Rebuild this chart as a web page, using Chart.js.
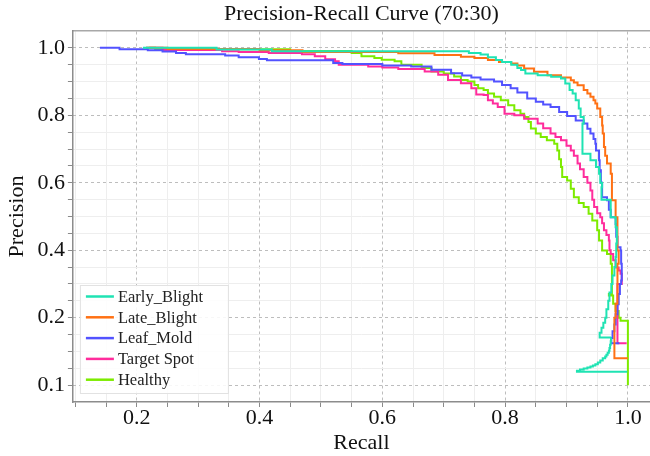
<!DOCTYPE html>
<html><head><meta charset="utf-8">
<script src="https://cdn.jsdelivr.net/npm/chart.js@4.4.1/dist/chart.umd.min.js"></script>
<style>html,body{margin:0;padding:0;background:#fff;}#wrap{width:650px;height:456px;}</style>
</head><body><div id="wrap"><canvas id="c" width="650" height="456"></canvas></div>
<script>
// ---- data ----
const seriesNames = ['Early_Blight', 'Late_Blight', 'Leaf_Mold', 'Target Spot', 'Healthy'];

const earlyBlightRecall = [0.21,0.33,0.42,0.741,0.76,0.772,0.785,0.795,0.81,0.82,0.826,0.833,0.853,0.875,0.891,0.898,0.905,0.91,0.915,0.92,0.923,0.928,0.926,0.926,0.939,0.948,0.953,0.955,0.958,0.957,0.972,0.98,0.982,0.981,0.98,0.978,0.975,0.973,0.97,0.968,0.965,0.963,0.96,0.957,0.954,0.973,0.9725,0.972,0.971,0.97,0.969,0.967,0.965,0.963,0.959,0.955,0.951,0.947,0.943,0.939,0.934,0.928,0.922,0.917,0.999];
const earlyBlightPrecision = [1.0,0.995,0.99,0.985,0.98,0.972,0.964,0.958,0.95,0.94,0.934,0.924,0.919,0.914,0.909,0.894,0.875,0.865,0.845,0.82,0.795,0.776,0.746,0.686,0.667,0.647,0.627,0.6,0.587,0.55,0.498,0.468,0.42,0.38,0.35,0.325,0.30,0.275,0.25,0.225,0.20,0.185,0.17,0.155,0.141,0.141,0.13,0.12,0.11,0.102,0.096,0.09,0.085,0.08,0.073,0.067,0.062,0.058,0.055,0.052,0.049,0.046,0.043,0.04,0.04];

const lateBlightRecall = [0.22,0.25,0.40,0.47,0.626,0.685,0.728,0.75,0.772,0.79,0.81,0.82,0.831,0.847,0.869,0.891,0.907,0.912,0.918,0.928,0.934,0.939,0.944,0.947,0.95,0.955,0.958,0.959,0.961,0.963,0.966,0.972,0.974,0.974,0.98,0.983,0.983,0.985,0.983,0.983,0.98,0.978,1.0];
const lateBlightPrecision = [1.0,0.997,0.993,0.988,0.984,0.979,0.974,0.97,0.964,0.958,0.954,0.948,0.939,0.929,0.919,0.912,0.904,0.897,0.889,0.875,0.865,0.855,0.845,0.835,0.82,0.795,0.77,0.746,0.706,0.68,0.657,0.627,0.597,0.548,0.498,0.439,0.399,0.36,0.31,0.241,0.2,0.08,0.08];

const leafMoldRecall = [0.14,0.172,0.218,0.242,0.264,0.28,0.344,0.366,0.399,0.412,0.52,0.535,0.60,0.647,0.68,0.712,0.73,0.745,0.76,0.782,0.795,0.809,0.82,0.836,0.85,0.862,0.874,0.888,0.901,0.915,0.928,0.934,0.939,0.944,0.947,0.948,0.953,0.954,0.956,0.958,0.966,0.969,0.972,0.98,0.981,0.983,0.988,0.989,0.99,0.989,0.987,0.985,0.983,0.98,0.978,0.975,0.973,0.986];
const leafMoldPrecision = [1.0,0.996,0.993,0.989,0.985,0.981,0.977,0.972,0.967,0.963,0.955,0.952,0.948,0.945,0.935,0.925,0.918,0.912,0.906,0.9,0.89,0.88,0.868,0.85,0.84,0.832,0.825,0.81,0.798,0.785,0.776,0.76,0.746,0.73,0.716,0.696,0.667,0.637,0.6,0.557,0.548,0.52,0.498,0.478,0.44,0.409,0.399,0.36,0.31,0.3,0.27,0.24,0.21,0.18,0.16,0.14,0.124,0.124];

const targetSpotRecall = [0.215,0.242,0.339,0.366,0.415,0.469,0.49,0.507,0.523,0.529,0.577,0.60,0.626,0.669,0.691,0.707,0.728,0.745,0.753,0.765,0.772,0.78,0.788,0.799,0.815,0.831,0.853,0.862,0.874,0.882,0.891,0.9,0.907,0.912,0.918,0.922,0.928,0.934,0.939,0.942,0.945,0.95,0.955,0.958,0.961,0.965,0.969,0.97,0.972,0.976,0.98,0.985,0.988,0.99,0.983,0.983,0.998];
const targetSpotPrecision = [1.0,0.994,0.99,0.988,0.985,0.981,0.975,0.966,0.96,0.95,0.945,0.942,0.937,0.93,0.92,0.905,0.895,0.88,0.862,0.86,0.845,0.835,0.825,0.805,0.8,0.79,0.776,0.762,0.746,0.736,0.726,0.71,0.696,0.68,0.657,0.64,0.617,0.6,0.577,0.55,0.528,0.51,0.498,0.48,0.459,0.445,0.429,0.4,0.389,0.37,0.349,0.34,0.33,0.3,0.28,0.124,0.124];

const healthyRecall = [0.215,0.23,0.45,0.55,0.566,0.587,0.599,0.62,0.631,0.664,0.68,0.70,0.717,0.728,0.739,0.75,0.756,0.765,0.772,0.782,0.793,0.805,0.815,0.825,0.831,0.838,0.842,0.85,0.858,0.868,0.88,0.885,0.888,0.891,0.893,0.901,0.907,0.912,0.92,0.928,0.936,0.942,0.95,0.953,0.958,0.966,0.972,0.974,0.974,0.969,0.976,0.976,0.98,0.985,0.988,1.0,1.0];
const healthyPrecision = [1.0,0.996,0.991,0.985,0.975,0.97,0.965,0.96,0.95,0.94,0.93,0.924,0.915,0.905,0.9,0.89,0.88,0.875,0.865,0.855,0.845,0.83,0.815,0.805,0.795,0.78,0.761,0.746,0.736,0.726,0.716,0.696,0.67,0.647,0.617,0.607,0.582,0.557,0.54,0.528,0.508,0.488,0.459,0.429,0.399,0.389,0.36,0.31,0.27,0.266,0.26,0.241,0.22,0.2,0.191,0.191,0.0];

const xTickValues = [0.2, 0.4, 0.6, 0.8, 1.0];
const xTickLabels = ['0.2', '0.4', '0.6', '0.8', '1.0'];
const yTickValues = [0.0, 0.2, 0.4, 0.6, 0.8, 1.0];
const yTickLabels = ['0.1', '0.2', '0.4', '0.6', '0.8', '1.0'];

// ---- styling ----
const seriesColors = ['#1FE3B3', '#FF7114', '#5252FF', '#FF2C9C', '#7DEB00'];
const FONT = "'Liberation Serif', 'Times New Roman', serif";

const recallSets = [earlyBlightRecall, lateBlightRecall, leafMoldRecall, targetSpotRecall, healthyRecall];
const precisionSets = [earlyBlightPrecision, lateBlightPrecision, leafMoldPrecision, targetSpotPrecision, healthyPrecision];

const datasets = seriesNames.map((name, k) => {
  const r = recallSets[k], p = precisionSets[k];
  const n = Math.min(r.length, p.length);
  const pts = [];
  for (let i = 0; i < n; i++) pts.push({x: r[i], y: p[i]});
  return {
    label: name, data: pts, borderColor: seriesColors[k], backgroundColor: seriesColors[k],
    borderWidth: 2, pointRadius: 0, stepped: true, fill: false, tension: 0
  };
});

const round2 = v => Math.round(v * 100) / 100;
const minorSteps = (a, b) => { const out = []; for (let i = Math.round(a * 20); i <= Math.round(b * 20); i++) out.push({value: i / 20}); return out; };
const isIn = (arr, v) => arr.some(t => Math.abs(t - v) < 1e-6);

const X_MIN = 0.096, X_MAX = 1.036, Y_MIN = -0.05, Y_MAX = 1.05;

const legendBox = {
  id: 'legendBox',
  afterDatasetsDraw(chart) {
    const ca = chart.chartArea, ctx = chart.ctx;
    const left = ca.left + 7, top = ca.bottom - 117, w = 148, h = 108;
    ctx.save();
    ctx.fillStyle = 'rgba(255,255,255,0.88)';
    ctx.fillRect(left, top, w, h);
    ctx.strokeStyle = '#e2e2e2'; ctx.lineWidth = 1;
    ctx.strokeRect(left + 0.5, top + 0.5, w, h);
    ctx.font = '16.5px ' + FONT; ctx.textBaseline = 'middle'; ctx.textAlign = 'left';
    chart.data.datasets.forEach((ds, i) => {
      const y = top + 11.5 + i * 20.8;
      ctx.strokeStyle = ds.borderColor; ctx.lineWidth = 2.5;
      ctx.beginPath(); ctx.moveTo(left + 6, y); ctx.lineTo(left + 34, y); ctx.stroke();
      ctx.fillStyle = '#222';
      ctx.fillText(ds.label, left + 38, y + 1);
    });
    ctx.restore();
  }
};

new Chart(document.getElementById('c'), {
  type: 'line',
  data: { datasets },
  options: {
    responsive: false, devicePixelRatio: 1, animation: false,
    layout: { padding: { left: 0, right: 0, top: 0, bottom: 0 } },
    plugins: {
      legend: { display: false },
      tooltip: { enabled: false },
      title: {
        display: true, text: 'Precision-Recall Curve (70:30)', fullSize: false,
        color: '#111', font: { family: FONT, size: 22, weight: 'normal', lineHeight: 1.2 },
        padding: { top: 1, bottom: 3.6 }
      }
    },
    scales: {
      x: {
        type: 'linear', position: 'bottom', min: X_MIN, max: X_MAX,
        afterBuildTicks: s => { s.ticks = minorSteps(0.1, 1.0); },
        ticks: {
          autoSkip: false, maxRotation: 0, minRotation: 0, padding: 0, color: '#111',
          font: { family: FONT, size: 22, lineHeight: 1.0 },
          callback: v => { const r = round2(v); const i = xTickValues.findIndex(t => Math.abs(t - r) < 1e-6); return i >= 0 ? xTickLabels[i] : ''; }
        },
        grid: {
          color: c => (c.tick && isIn(xTickValues, c.tick.value)) ? 'rgba(0,0,0,0)' : '#eeeeee',
          lineWidth: 1, tickLength: 5, tickColor: '#8a8a8a', tickWidth: 1
        },
        border: { display: true, color: '#8c8c8c', width: 1.5 },
        title: { display: true, text: 'Recall', color: '#111', font: { family: FONT, size: 22, lineHeight: 1.1 }, padding: { top: 1.8, bottom: 1 } }
      },
      xg: {
        type: 'linear', position: 'top', min: X_MIN, max: X_MAX,
        afterBuildTicks: s => { s.ticks = xTickValues.map(v => ({value: v})); },
        ticks: { display: false },
        grid: { color: '#bdbdbd', lineWidth: 1, drawTicks: false },
        border: { display: true, color: '#a8a8a8', width: 1.5, dash: [3, 3] }
      },
      y: {
        type: 'linear', position: 'left', min: Y_MIN, max: Y_MAX,
        afterBuildTicks: s => { s.ticks = minorSteps(0, 1.0); },
        ticks: {
          autoSkip: false, padding: 3, color: '#111',
          font: { family: FONT, size: 22 },
          callback: v => { const r = round2(v); const i = yTickValues.findIndex(t => Math.abs(t - r) < 1e-6); return i >= 0 ? yTickLabels[i] : ''; }
        },
        grid: {
          color: c => (c.tick && isIn(yTickValues, c.tick.value)) ? 'rgba(0,0,0,0)' : '#eeeeee',
          lineWidth: 1, tickLength: 5, tickColor: '#8a8a8a', tickWidth: 1
        },
        border: { display: true, color: '#8c8c8c', width: 1.5 },
        title: { display: true, text: 'Precision', color: '#111', font: { family: FONT, size: 22, lineHeight: 1.2 }, padding: { top: 4, bottom: 4 } }
      },
      yg: {
        type: 'linear', position: 'left', min: Y_MIN, max: Y_MAX,
        afterBuildTicks: s => { s.ticks = yTickValues.map(v => ({value: v})); },
        ticks: { display: false },
        grid: { color: '#bdbdbd', lineWidth: 1, drawTicks: false },
        border: { display: false, dash: [3, 3] }
      }
    }
  },
  plugins: [legendBox]
});
</script></body></html>
